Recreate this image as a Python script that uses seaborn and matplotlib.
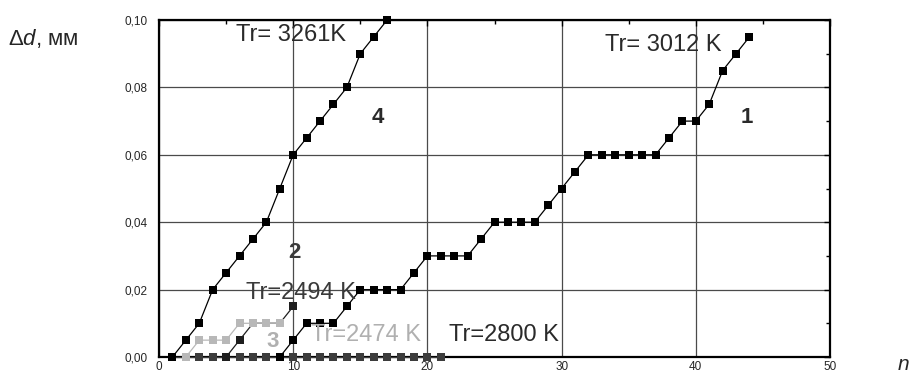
import matplotlib
matplotlib.use('Agg')
import matplotlib.pyplot as plt
from matplotlib.ticker import MultipleLocator, FuncFormatter
import seaborn as sns

# measured values (n -> delta d, mm)
n_1 = list(range(9, 45))
d_1 = [0, .005, .01, .01, .01, .015, .02, .02, .02, .02, .025, .03, .03, .03, .03,
       .035, .04, .04, .04, .04, .045, .05, .055, .06, .06, .06, .06, .06, .06,
       .065, .07, .07, .075, .085, .09, .095]

n_2 = list(range(5, 11))
d_2 = [0, .005, .01, .01, .01, .015]

n_3 = list(range(2, 10))
d_3 = [0, .005, .005, .005, .01, .01, .01, .01]

n_4 = list(range(1, 18))
d_4 = [0, .005, .01, .02, .025, .03, .035, .04, .05, .06, .065, .07, .075, .08,
       .09, .095, .10]

n_0 = list(range(1, 22))
d_0 = [0] * len(n_0)

sns.set_style('white')
plt.rcParams['font.family'] = ['Liberation Sans', 'DejaVu Sans']
plt.rcParams['mathtext.fontset'] = 'custom'
plt.rcParams['mathtext.rm'] = 'Liberation Sans'
plt.rcParams['mathtext.it'] = 'Liberation Sans:italic'

fig = plt.figure(figsize=(9.09, 3.73), dpi=100)
ax = fig.add_axes([159 / 909, 16 / 373, 671 / 909, 337 / 373])

style = dict(marker='s', markersize=5.5, markeredgewidth=0, linewidth=0.9,
             clip_on=False, zorder=3)
sns.lineplot(x=n_0, y=d_0, color='#3c3c3c', ax=ax, **style)
sns.lineplot(x=n_4, y=d_4, color='#000000', ax=ax, **style)
sns.lineplot(x=n_2, y=d_2, color='#1e1e1e', ax=ax, **style)
sns.lineplot(x=n_3, y=d_3, color='#b8b8b8', ax=ax, **style)
sns.lineplot(x=n_1, y=d_1, color='#000000', ax=ax, **style)

ax.set_xlim(0, 50)
ax.set_ylim(0, 0.10)
ax.xaxis.set_major_locator(MultipleLocator(10))
ax.xaxis.set_minor_locator(MultipleLocator(5))
ax.yaxis.set_major_locator(MultipleLocator(0.02))
ax.yaxis.set_minor_locator(MultipleLocator(0.01))
ax.yaxis.set_major_formatter(FuncFormatter(lambda v, p: f'{v:.2f}'.replace('.', ',')))
ax.grid(True, which='major', color='#4a4a4a', linewidth=0.9)
ax.tick_params(which='both', direction='in', top=True, right=True,
               labelsize=8.5, color='black')
ax.tick_params(which='major', length=4, width=1)
ax.tick_params(which='minor', length=3, width=1)
ax.tick_params(axis='y', pad=8)
ax.tick_params(axis='x', pad=3)
for side in ax.spines.values():
    side.set_linewidth(1.6)
    side.set_color('black')
ax.set_xlabel('')
ax.set_ylabel('')

ax.text(9.8, 0.0955, 'Tr= 3261K', fontsize=17, ha='center', va='center', color='#2a2a2a')
ax.text(37.6, 0.0925, 'Tr= 3012 K', fontsize=17, ha='center', va='center', color='#2a2a2a')
ax.text(10.6, 0.019, 'Tr=2494 K', fontsize=17, ha='center', va='center', color='#3a3a3a')
ax.text(15.4, 0.0065, 'Tr=2474 K', fontsize=17, ha='center', va='center', color='#b0b0b0')
ax.text(25.7, 0.0065, 'Tr=2800 K', fontsize=17, ha='center', va='center', color='#2a2a2a')
ax.text(16.3, 0.0712, '4', fontsize=16, fontweight='bold', ha='center', va='center', color='#2a2a2a')
ax.text(43.8, 0.0712, '1', fontsize=16, fontweight='bold', ha='center', va='center', color='#2a2a2a')
ax.text(10.1, 0.031, '2', fontsize=16, fontweight='bold', ha='center', va='center', color='#3a3a3a')
ax.text(8.5, 0.0045, '3', fontsize=16, fontweight='bold', ha='center', va='center', color='#b0b0b0')

fig.text(8 / 909, 1 - 38 / 373, r'Δ$d$, мм', fontsize=16, ha='left', va='center')
fig.text(903 / 909, 1 - 365 / 373, r'$n$', fontsize=15, ha='center', va='center')

fig.savefig('out.png', dpi=100)
